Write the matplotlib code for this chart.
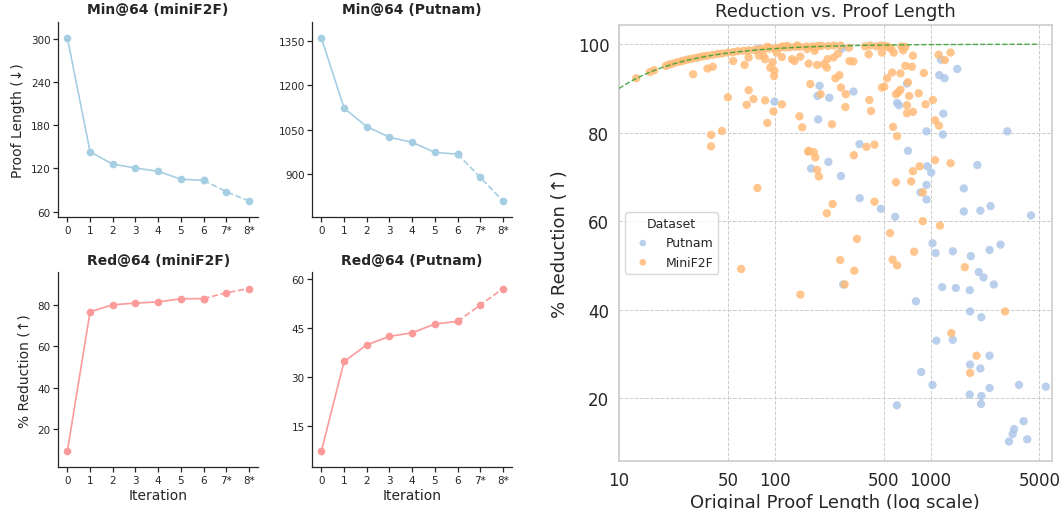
import numpy as np
import matplotlib.pyplot as plt

plt.rcParams['font.family'] = ['DejaVu Sans']
plt.rcParams['text.color'] = '#262626'
plt.rcParams['axes.labelcolor'] = '#262626'
plt.rcParams['xtick.color'] = '#262626'
plt.rcParams['ytick.color'] = '#262626'

# ---- line panels ----
iterations = ["0", "1", "2", "3", "4", "5", "6", "7*", "8*"]
min_minif2f = [301, 143, 126, 120.5, 116, 105, 103.5, 87.7, 74.8]
min_putnam = [1360, 1123, 1061, 1025, 1008, 974, 968, 890, 810]
red_minif2f = [9.2, 76.8, 80.2, 81.0, 81.6, 83.1, 83.2, 86.0, 88.1]
red_putnam = [7.3, 34.8, 39.9, 42.5, 43.6, 46.3, 47.1, 52.1, 57.2]

# ---- scatter: original proof length vs % reduction ----
putnam_len = [78, 270, 99.5, 194, 188, 224, 320, 190, 350, 706, 610, 628, 716,
              1165, 1138, 1230, 1485, 1208, 942, 1200, 3114, 221, 171, 266, 952,
              1010, 2000, 942, 862, 942, 1636, 351, 480, 593, 1636, 2090, 2430,
              4420, 1030, 1078, 1391, 1815, 2394, 2817, 2040, 2190, 2550, 1188,
              1453, 1786, 806, 1795, 2120, 1090, 1390, 2394, 1795, 2090, 872,
              1030, 2394, 3700, 5500, 1786, 2120, 2110, 608, 3960, 3440, 3370,
              3190, 4180, 275]
putnam_red = [98.9, 99.0, 87.0, 90.6, 88.3, 87.9, 89.3, 83.0, 77.4, 91.1, 86.7, 86.2, 75.9,
              96.5, 93.0, 92.3, 94.4, 84.3, 80.3, 79.6, 80.3, 73.4, 71.9, 70.2, 72.4,
              71.0, 72.7, 68.2, 66.5, 64.9, 67.4, 65.2, 62.8, 61.0, 62.2, 62.4, 63.4,
              61.3, 55.0, 52.8, 53.2, 52.1, 53.5, 54.7, 48.5, 47.3, 45.7, 45.1,
              44.9, 44.4, 41.9, 39.6, 38.3, 33.0, 33.2, 29.6, 27.6, 26.7, 25.9,
              23.0, 22.3, 23.0, 22.6, 20.8, 20.5, 18.7, 18.4, 14.8, 13.0, 11.9,
              10.2, 10.7, 45.7]

minif2f_len = [
    # along the bound
    12.9, 15.8, 16.8, 20.0, 21.0, 22.0, 23.5, 25.0, 26.0, 27.5, 29.0, 31.0, 33.0,
    35.0, 37.0, 40.0, 43.0, 46.0, 50.0, 54.0, 58.0, 63.0, 68.0, 74.0, 80.0, 86.0,
    92.0, 100, 108, 116, 125, 135, 145, 160, 175, 190,
    # top row
    90, 112, 120, 140, 161, 182, 180, 200, 220, 240, 265, 300, 380, 410, 450, 480,
    520, 540, 560, 650, 690,
    # rest
    29.9, 37, 40, 54, 64, 67.9, 79, 50, 68, 73, 66, 45.8, 39, 39, 77.4, 98, 111,
    89.6, 86.7, 144, 150, 164, 84.6, 86.7, 102.5, 111, 129, 134, 146, 96.8, 93.5,
    99.4, 99, 165, 187, 207, 218, 216, 239, 255, 302, 320, 260, 245, 169, 197, 266,
    286, 233, 284, 405, 415, 488, 505, 526, 567, 641, 690, 580, 667, 600, 620, 641,
    706, 706, 575, 610, 388, 437, 165, 178, 401, 488, 771, 1127, 1345, 1236, 906,
    1036, 929, 1069, 1133, 759, 716, 840, 729, 772, 322, 182, 187, 192, 1069, 1345,
    852, 772, 752, 600, 892, 235, 216, 437, 892, 1150, 550, 337, 784, 571, 610, 263,
    324, 281, 146, 60.8, 1660, 3010, 1360, 1975, 1795]
minif2f_red = [
    92.3, 93.7, 94.1, 95.1, 95.4, 95.6, 95.9, 96.1, 96.3, 96.5, 96.7, 96.9, 97.1,
    97.3, 97.4, 97.6, 97.8, 97.9, 98.1, 98.2, 98.4, 98.5, 98.6, 98.7, 98.9, 99.0,
    99.0, 99.1, 99.2, 99.3, 99.3, 99.4, 99.4, 99.5, 99.5, 99.6,
    99.4, 99.5, 99.6, 99.7, 98.9, 99.3, 98.5, 99.6, 99.6, 99.7, 99.7, 99.2, 99.5,
    99.7, 99.5, 99.7, 99.6, 99.3, 99.0, 99.5, 99.4,
    93.2, 94.5, 94.9, 96.2, 95.3, 97.0, 97.4, 88.0, 89.6, 87.6, 86.3, 80.4, 79.5,
    76.9, 67.5, 84.8, 86.4, 82.2, 87.3, 83.7, 81.2, 75.7, 97.4, 96.6, 98.1, 97.1,
    96.6, 96.2, 97.2, 95.9, 94.7, 94.0, 92.8, 95.6, 95.3, 95.5, 96.6, 94.7, 97.0,
    97.9, 96.2, 96.1, 93.0, 92.3, 91.0, 88.7, 90.2, 88.7, 81.9, 85.8, 87.4, 84.9,
    90.2, 90.4, 92.3, 93.6, 93.4, 95.1, 98.1, 98.6, 88.7, 89.1, 89.7, 86.2, 84.4,
    81.3, 79.2, 76.8, 77.3, 75.9, 75.6, 97.7, 98.1, 97.4, 97.6, 98.1, 96.4, 93.5,
    87.4, 86.4, 82.8, 81.6, 94.9, 91.4, 88.9, 88.3, 84.7, 74.9, 74.4, 71.6, 70.1,
    73.8, 73.1, 72.4, 71.3, 69.0, 68.8, 66.5, 63.9, 61.8, 64.4, 60.0, 59.0, 57.3,
    56.0, 53.1, 51.3, 50.0, 51.2, 48.8, 45.7, 43.4, 49.2, 49.6, 39.6, 34.7, 29.6,
    25.7]

blue_line = '#a6cee3'
red_line = '#fb9a99'

fig = plt.figure(figsize=(10.62, 5.1), dpi=100)

ax1 = fig.add_axes([0.0549, 0.572, 0.188, 0.3835])
ax2 = fig.add_axes([0.2941, 0.572, 0.188, 0.3835])
ax3 = fig.add_axes([0.0549, 0.0818, 0.188, 0.3824])
ax4 = fig.add_axes([0.2941, 0.0818, 0.188, 0.3824])
ax5 = fig.add_axes([0.5829, 0.0941, 0.4074, 0.8555])


def line_panel(ax, vals, color, title, yticks, ylabel=None, xlabel=None):
    x = np.arange(len(vals))
    ax.plot(x[:7], vals[:7], color=color, lw=1.2, marker='o', ms=4.5)
    ax.plot(x[6:], vals[6:], color=color, lw=1.2, ls='--', marker='o', ms=4.5)
    ax.set_xticks(x, iterations)
    ax.set_yticks(yticks)
    ax.margins(x=0.05, y=0.1)
    ax.set_title(title, fontsize=10, fontweight='bold', pad=6)
    ax.tick_params(labelsize=7.5, length=3.5, width=0.9, pad=2)
    for s in ['top', 'right']:
        ax.spines[s].set_visible(False)
    for s in ['left', 'bottom']:
        ax.spines[s].set_linewidth(0.9)
        ax.spines[s].set_color('#262626')
    if ylabel:
        ax.set_ylabel(ylabel, fontsize=10, labelpad=4)
    if xlabel:
        ax.set_xlabel(xlabel, fontsize=10, labelpad=2)


line_panel(ax1, min_minif2f, blue_line, "Min@64 (miniF2F)", [60, 120, 180, 240, 300],
           ylabel="Proof Length (↓)")
line_panel(ax2, min_putnam, blue_line, "Min@64 (Putnam)", [900, 1050, 1200, 1350])
line_panel(ax3, red_minif2f, red_line, "Red@64 (miniF2F)", [20, 40, 60, 80],
           ylabel="% Reduction (↑)", xlabel="Iteration")
line_panel(ax4, red_putnam, red_line, "Red@64 (Putnam)", [15, 30, 45, 60],
           xlabel="Iteration")

# ---- scatter panel ----
ax5.scatter(putnam_len, putnam_red, s=36, color='#aec7e8', alpha=0.85,
            edgecolors='none', label='Putnam', zorder=2)
ax5.scatter(minif2f_len, minif2f_red, s=36, color='#ffbb78', alpha=0.85,
            edgecolors='none', label='MiniF2F', zorder=2)
xs = np.logspace(1, np.log10(5000), 300)
ax5.plot(xs, 100 * (1 - 1 / xs), ls='--', color='#2ca02c', lw=1.0, alpha=0.85, zorder=3)
ax5.set_xscale('log')
ax5.set_xlim(10, 6000)
ax5.set_ylim(5.8, 104.4)
xt = [10, 50, 100, 500, 1000, 5000]
ax5.set_xticks(xt, [str(v) for v in xt])
ax5.xaxis.set_minor_locator(plt.NullLocator())
ax5.set_yticks([20, 40, 60, 80, 100])
ax5.tick_params(labelsize=12, length=0, pad=7)
ax5.grid(True, ls='--', lw=0.7, color='#cccccc', zorder=0)
ax5.set_axisbelow(True)
for s in ax5.spines.values():
    s.set_color('#cccccc')
    s.set_linewidth(1.2)
ax5.set_title("Reduction vs. Proof Length", fontsize=13, pad=6)
ax5.set_xlabel("Original Proof Length (log scale)", fontsize=13, labelpad=3)
ax5.set_ylabel("% Reduction (↑)", fontsize=13, labelpad=6)
leg = ax5.legend(title='Dataset', loc='center left', bbox_to_anchor=(0.0, 0.5),
                 fontsize=9, title_fontsize=9, markerscale=0.8, frameon=True)
leg.get_frame().set_edgecolor('#cccccc')

plt.savefig("out.png", dpi=100)
